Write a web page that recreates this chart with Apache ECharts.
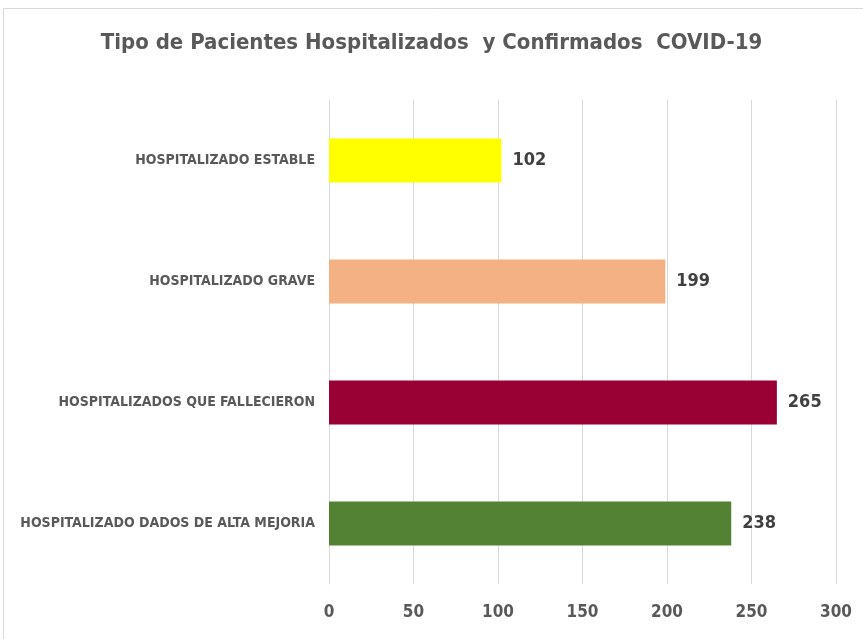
<!DOCTYPE html>
<html>
<head>
<meta charset="utf-8">
<script src="https://cdn.jsdelivr.net/npm/echarts@6/dist/echarts.min.js"></script>
<style>
  html, body { margin: 0; padding: 0; background: #fff; }
  #main { width: 863px; height: 639px; }
</style>
</head>
<body>
<div id="main"></div>
<script>
var categories = ['HOSPITALIZADO ESTABLE', 'HOSPITALIZADO GRAVE', 'HOSPITALIZADOS QUE FALLECIERON', 'HOSPITALIZADO DADOS DE ALTA MEJORIA'];
var values = [102, 199, 265, 238];
var colors = ['#FFFF00', '#F4B183', '#990033', '#548235'];
var xTicks = [0, 50, 100, 150, 200, 250, 300];

var font = '"Liberation Sans Narrow", "DejaVu Sans Condensed", "Roboto Condensed", sans-serif';

var myChart = echarts.init(document.getElementById('main'));
myChart.setOption({
    animation: false,
    textStyle: { fontFamily: font },
    graphic: [{
        type: 'rect',
        shape: { x: 3.5, y: 8.5, width: 880, height: 660 },
        style: { fill: 'none', stroke: '#d9d9d9', lineWidth: 1 },
        silent: true
    }],
    title: {
        text: 'Tipo de Pacientes Hospitalizados  y Confirmados  COVID-19',
        left: 'center',
        top: 27,
        textStyle: { fontFamily: font, fontSize: 22, fontWeight: 'bold', color: '#595959' }
    },
    grid: { left: 329, right: 27, top: 100, bottom: 55, outerBoundsMode: 'none' },
    xAxis: {
        type: 'value',
        min: xTicks[0],
        max: xTicks[xTicks.length - 1],
        interval: 50,
        axisLine: { show: false },
        axisTick: { show: false },
        splitLine: { lineStyle: { color: '#d9d9d9', width: 1 } },
        axisLabel: { fontFamily: font, fontSize: 17, fontWeight: 'bold', color: '#595959', margin: 20 }
    },
    yAxis: {
        type: 'category',
        inverse: true,
        data: categories,
        axisLine: { show: true, lineStyle: { color: '#d9d9d9' } },
        axisTick: { show: false },
        axisLabel: { fontFamily: font, fontSize: 14, fontWeight: 'bold', color: '#595959', margin: 14 }
    },
    series: [{
        type: 'bar',
        barWidth: 44,
        data: values.map(function (v, i) {
            return { value: v, itemStyle: { color: colors[i] } };
        }),
        label: {
            show: true,
            position: 'right',
            distance: 11,
            fontFamily: font,
            fontSize: 18,
            fontWeight: 'bold',
            color: '#404040'
        }
    }]
});
</script>
</body>
</html>
